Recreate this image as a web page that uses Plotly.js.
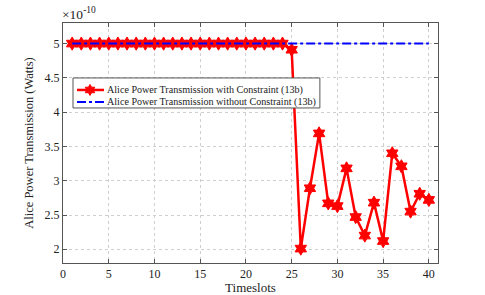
<!DOCTYPE html>
<html>
<head>
<meta charset="utf-8">
<script src="https://cdn.plot.ly/plotly-3.0.1.min.js"></script>
<style>html,body{margin:0;padding:0;background:#fff;}#chart{width:485px;height:295px;}</style>
</head>
<body>
<div id="chart"></div>
<script>
const timeslots = [1,2,3,4,5,6,7,8,9,10,11,12,13,14,15,16,17,18,19,20,21,22,23,24,25,26,27,28,29,30,31,32,33,34,35,36,37,38,39,40];
const withConstraint = [5,5,5,5,5,5,5,5,5,5,5,5,5,5,5,5,5,5,5,5,5,5,5,5,4.91,2.01,2.89,3.69,2.67,2.63,3.18,2.47,2.20,2.68,2.12,3.40,3.21,2.55,2.81,2.72];
const withoutConstraint = [5,5,5,5,5,5,5,5,5,5,5,5,5,5,5,5,5,5,5,5,5,5,5,5,5,5,5,5,5,5,5,5,5,5,5,5,5,5,5,5];
const seriesNames = ['Alice Power Transmission with Constraint (13b)', 'Alice Power Transmission without Constraint (13b)'];
const xTicks = [0,5,10,15,20,25,30,35,40];
const yTicks = [2,2.5,3,3.5,4,4.5,5];
const scale = 1e-10;

const fam = '"Liberation Serif", "Times New Roman", serif';
const font = {family: fam, color: '#222'};
const f = (s) => Object.assign({size: s}, font);

const traces = [
  {
    x: timeslots, y: withConstraint.map(v => v*scale), name: seriesNames[0],
    mode: 'lines+markers', type: 'scatter', showlegend: false,
    line: {color: '#ff0000', width: 2.5},
    marker: {symbol: 'hexagram', size: 10, color: '#ff0000', line: {color: '#ff0000', width: 1}}
  },
  {
    x: timeslots, y: withoutConstraint.map(v => v*scale), name: seriesNames[1],
    mode: 'lines', type: 'scatter', showlegend: false,
    line: {color: '#0000ff', width: 2, dash: 'dashdot'}
  }
];

const axisCommon = {
  showline: true, linecolor: '#555', linewidth: 1, mirror: 'ticks',
  ticks: 'inside', ticklen: 4, tickcolor: '#555',
  showgrid: true, gridcolor: '#cfcfcf', griddash: 'dot', gridwidth: 1,
  zeroline: false, tickfont: f(12)
};

// custom legend (box, symbol lines, hexagram glyph, labels)
function starPath(R) {
  const r = R / Math.sqrt(3);
  let p = '';
  for (let i = 0; i < 12; i++) {
    const a = Math.PI / 2 + i * Math.PI / 6;
    const rad = i % 2 === 0 ? R : r;
    p += (i === 0 ? 'M' : 'L') + (rad*Math.cos(a)).toFixed(2) + ',' + (rad*Math.sin(a)).toFixed(2);
  }
  return p + 'Z';
}
const lg = {x0: 0.0267, x1: 0.685, y0: 0.646, y1: 0.771, rows: [0.721, 0.671], lx0: 0.0373, lx1: 0.1093, mx: 0.072, tx: 0.1173};
const shapes = [
  {type: 'rect', xref: 'paper', yref: 'paper', x0: lg.x0, x1: lg.x1, y0: lg.y0, y1: lg.y1, line: {color: '#555', width: 1}, fillcolor: '#fff', layer: 'above'},
  {type: 'line', xref: 'paper', yref: 'paper', x0: lg.lx0, x1: lg.lx1, y0: lg.rows[0], y1: lg.rows[0], line: {color: '#ff0000', width: 2.5}, layer: 'above'},
  {type: 'path', xref: 'paper', yref: 'paper', xsizemode: 'pixel', ysizemode: 'pixel', xanchor: lg.mx, yanchor: lg.rows[0], path: starPath(5.5), fillcolor: '#ff0000', line: {color: '#ff0000', width: 1}, layer: 'above'},
  {type: 'line', xref: 'paper', yref: 'paper', x0: lg.lx0, x1: lg.lx1, y0: lg.rows[1], y1: lg.rows[1], line: {color: '#0000ff', width: 2, dash: 'dashdot'}, layer: 'above'}
];

const annotations = [
  {xref: 'paper', yref: 'paper', x: 0, y: 1, xanchor: 'left', yanchor: 'bottom',
   text: '×10<sup>-10</sup>', showarrow: false, font: f(13.5), yshift: -1, xshift: -3},
  {xref: 'paper', yref: 'paper', x: lg.tx, y: lg.rows[0], xanchor: 'left', yanchor: 'middle',
   text: seriesNames[0], showarrow: false, font: f(10.1), xshift: -2},
  {xref: 'paper', yref: 'paper', x: lg.tx, y: lg.rows[1], xanchor: 'left', yanchor: 'middle',
   text: seriesNames[1], showarrow: false, font: f(10.1), xshift: -2}
];

const layout = {
  width: 485, height: 295,
  margin: {l: 63, r: 47, t: 23, b: 32},
  paper_bgcolor: '#fff', plot_bgcolor: '#fff',
  showlegend: false,
  xaxis: Object.assign({}, axisCommon, {
    range: [0, 41], tickvals: xTicks, ticktext: xTicks.map(String),
    title: {text: 'Timeslots', font: f(13), standoff: 4}
  }),
  yaxis: Object.assign({}, axisCommon, {
    range: [1.8*scale, 5.3*scale], tickvals: yTicks.map(v => v*scale), ticktext: yTicks.map(String),
    title: {text: 'Alice Power Transmission (Watts)', font: f(12.5), standoff: 8}
  }),
  shapes: shapes,
  annotations: annotations
};

Plotly.newPlot('chart', traces, layout, {displayModeBar: false, staticPlot: true});
</script>
</body>
</html>
